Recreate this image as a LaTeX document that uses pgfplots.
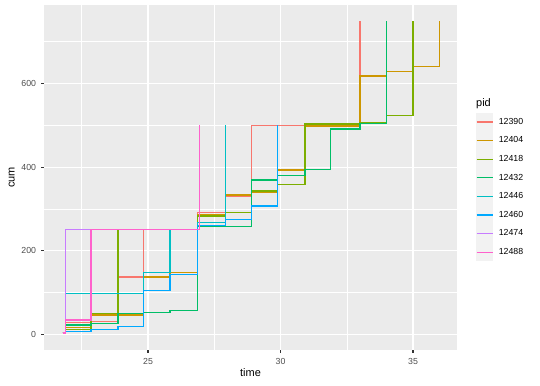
\documentclass[border=0pt]{standalone}
\usepackage{pgfplots}
\pgfplotsset{compat=1.18}
\usepackage{fontspec}
\setmainfont{Liberation Sans}
\definecolor{pidRed}{HTML}{F8766D}
\definecolor{pidOrange}{HTML}{CD9600}
\definecolor{pidOlive}{HTML}{7CAE00}
\definecolor{pidGreen}{HTML}{00BE67}
\definecolor{pidTeal}{HTML}{00BFC4}
\definecolor{pidBlue}{HTML}{00A9FF}
\definecolor{pidPurple}{HTML}{C77CFF}
\definecolor{pidPink}{HTML}{FF61CC}
\definecolor{panelbg}{HTML}{EBEBEB}
\definecolor{keybg}{HTML}{F2F2F2}
\definecolor{ticklab}{HTML}{4D4D4D}
\definecolor{tickcol}{HTML}{333333}
\begin{document}
\begin{tikzpicture}
\useasboundingbox (0,0) rectangle (540bp,386bp);
\begin{axis}[
 at={(44bp,36bp)}, anchor=south west,
 scale only axis, width=413bp, height=345bp,
 xmin=21.075, xmax=36.66, ymin=-37.5, ymax=787.5,
 axis line style={draw=none},
 axis background/.style={fill=panelbg},
 xtick={25,30,35}, ytick={0,200,400,600},
 minor xtick={22.5,27.5,32.5}, minor ytick={100,300,500,700},
 grid=both,
 major grid style={white, line width=1.07bp},
 minor grid style={white, line width=0.53bp},
 tick align=outside, major tick length=2.75bp, minor tick length=0pt,
 tick style={tickcol, line width=1.07bp},
 xtick pos=lower, ytick pos=left,
 tick label style={font=\fontsize{8.8}{10}\selectfont, text=ticklab, inner sep=0pt},
 xticklabel style={yshift=-4.95bp},
 yticklabel style={xshift=-4.95bp},
 /pgf/number format/assume math mode=true,
 xlabel={time}, ylabel={cum},
 label style={font=\fontsize{11}{13}\selectfont},
 xlabel style={at={(axis description cs:0.5,-0.052)}, anchor=north, inner sep=0pt},
 ylabel style={at={(axis description cs:-0.078,0.5)}, anchor=center, inner sep=0pt},
 legend style={at={(1.046,0.688)}, anchor=north west, draw=none, fill=none,
   inner sep=0pt, outer sep=0pt, row sep=0pt, column sep=5.5bp,
   font=\fontsize{8.8}{10}\selectfont, nodes={inner sep=0pt}},
 legend cell align=left,
 legend image code/.code={\fill[keybg,draw=none] (0bp,-9.3bp) rectangle (17.28bp,9.3bp);
   \draw[#1,line width=1.25bp] (0.6bp,0bp)--(16.7bp,0bp);},
 every axis plot/.append style={line width=1.25bp, const plot, mark=none},
]
\addplot[color=pidRed] coordinates {(21.78,3)(21.9,29)(22.85,31)(23.87,137)(24.82,250)(26.88,292)(27.92,329)(28.9,500)(33.0,750)};
\addplot[color=pidOrange] coordinates {(21.78,3)(21.9,16)(22.85,46)(24.82,137)(25.83,148)(26.88,287)(27.92,333)(28.9,340)(29.9,393)(30.92,498)(33.0,618)(34.0,628)(35.0,640)(36.0,750)};
\addplot[color=pidOlive] coordinates {(21.78,3)(21.9,12)(22.85,50)(23.87,250)(26.88,283)(27.92,292)(28.9,343)(29.9,359)(30.92,503)(33.0,506)(34.0,524)(35.0,750)};
\addplot[color=pidGreen] coordinates {(21.78,3)(21.9,22)(22.85,26)(23.87,50)(24.82,53)(25.83,57)(26.88,258)(28.9,369)(29.9,379)(30.92,395)(31.9,491)(33.0,505)(34.0,750)};
\addplot[color=pidTeal] coordinates {(21.78,3)(21.9,98)(24.82,148)(25.83,250)(26.88,268)(27.92,500)};
\addplot[color=pidBlue] coordinates {(21.78,3)(21.9,7)(22.85,12)(23.87,19)(24.82,104)(25.83,143)(26.88,261)(27.92,275)(28.9,307)(29.9,500)};
\addplot[color=pidPurple] coordinates {(21.78,3)(21.9,250)(24.82,250)};
\addplot[color=pidPink] coordinates {(21.78,3)(21.9,34)(22.85,250)(26.95,500)};
\legend{12390,12404,12418,12432,12446,12460,12474,12488}
\end{axis}
\node[anchor=west, font=\fontsize{11}{13}\selectfont, inner sep=0pt] at (476bp,282bp) {pid};
\end{tikzpicture}
\end{document}
